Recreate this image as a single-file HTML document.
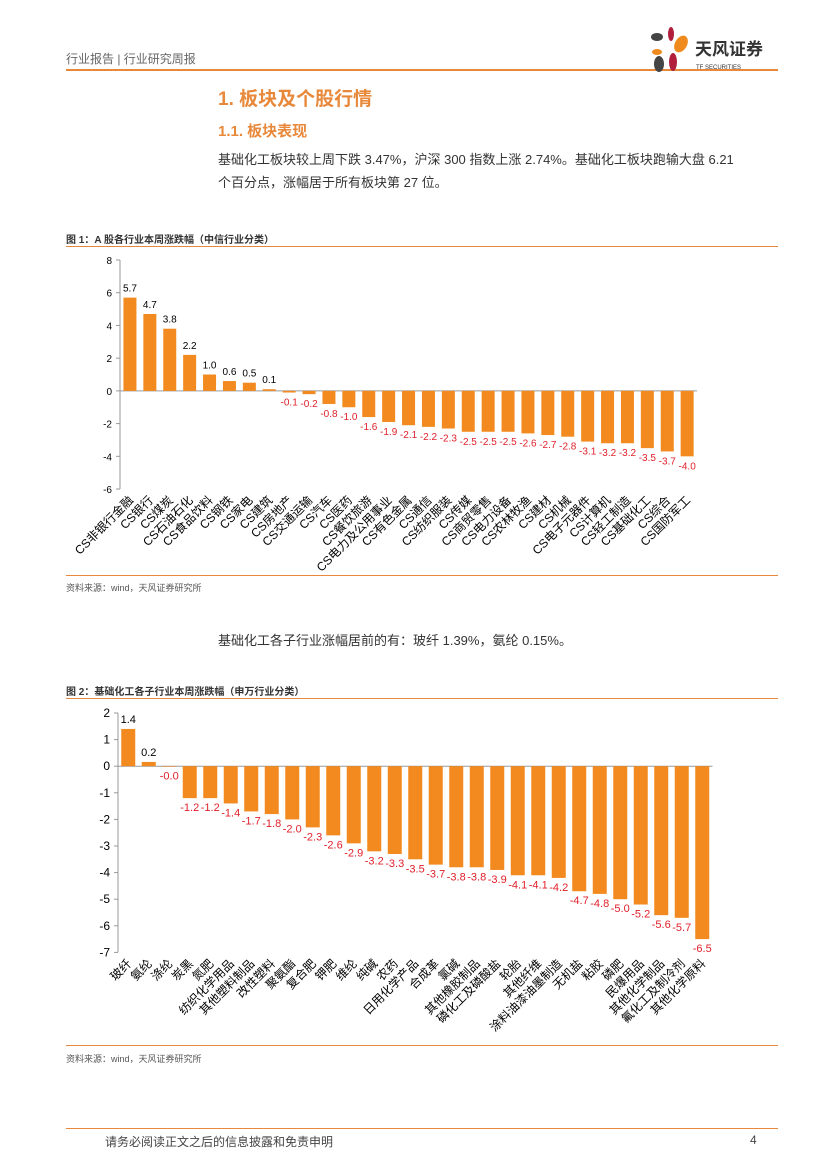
<!DOCTYPE html>
<html><head><meta charset="utf-8">
<style>
body{margin:0;background:#fff;font-family:"Liberation Sans","Noto Sans CJK SC",sans-serif;}
#page{position:relative;width:827px;height:1169px;overflow:hidden;}
.abs{position:absolute;}
</style></head>
<body><div id="page">
<div class="abs" style="left:66px;top:50px;font-size:12px;color:#666;">行业报告 | 行业研究周报</div>
<div class="abs" style="left:66px;top:69px;width:712px;height:2px;background:#e8883a;"></div>
<svg class="abs" style="left:645px;top:24px" width="140" height="50">
<ellipse cx="26" cy="10" rx="3" ry="7" fill="#b01e3c"/><ellipse cx="12" cy="13" rx="6" ry="4" fill="#444"/>
<ellipse cx="36" cy="20" rx="6" ry="9" fill="#ef8a1e" transform="rotate(30 36 20)"/>
<ellipse cx="12" cy="28" rx="5" ry="3" fill="#ef8a1e"/><ellipse cx="14" cy="40" rx="5" ry="8" fill="#444"/>
<ellipse cx="28" cy="38" rx="4" ry="9" fill="#b01e3c"/>
<text x="50" y="31" font-size="17" font-weight="bold" fill="#333">天风证券</text>
<text x="51" y="45" font-size="6" fill="#333">TF SECURITIES</text></svg>
<div class="abs" style="left:218px;top:84px;font-size:19px;font-weight:bold;color:#e8883a;">1. 板块及个股行情</div>
<div class="abs" style="left:218px;top:120px;font-size:15px;font-weight:bold;color:#e8883a;">1.1. 板块表现</div>
<div class="abs" style="left:218px;top:148px;width:560px;font-size:13px;line-height:23px;color:#333;">基础化工板块较上周下跌 3.47%，沪深 300 指数上涨 2.74%。基础化工板块跑输大盘 6.21<br>个百分点，涨幅居于所有板块第 27 位。</div>
<div class="abs" style="left:66px;top:231px;font-size:10px;font-weight:bold;color:#333;">图 1：A 股各行业本周涨跌幅（中信行业分类）</div>
<div class="abs" style="left:66px;top:246px;width:712px;height:1px;background:#e8883a;"></div>
<div class="abs" style="left:66px;top:575px;width:712px;height:1px;background:#e8883a;"></div>
<div class="abs" style="left:66px;top:581px;font-size:9px;color:#555;">资料来源：wind，天风证券研究所</div>
<div class="abs" style="left:218px;top:630px;font-size:13px;color:#333;">基础化工各子行业涨幅居前的有：玻纤 1.39%，氨纶 0.15%。</div>
<div class="abs" style="left:66px;top:683px;font-size:10px;font-weight:bold;color:#333;">图 2：基础化工各子行业本周涨跌幅（申万行业分类）</div>
<div class="abs" style="left:66px;top:698px;width:712px;height:1px;background:#e8883a;"></div>
<div class="abs" style="left:66px;top:1045px;width:712px;height:1px;background:#e8883a;"></div>
<div class="abs" style="left:66px;top:1052px;font-size:9px;color:#555;">资料来源：wind，天风证券研究所</div>
<div class="abs" style="left:66px;top:1128px;width:712px;height:1px;background:#e8883a;"></div>
<div class="abs" style="left:105px;top:1133px;font-size:12px;color:#444;">请务必阅读正文之后的信息披露和免责申明</div>
<div class="abs" style="left:750px;top:1133px;font-size:12px;color:#444;">4</div>
<svg id="c1" class="abs" style="left:0;top:0" width="827" height="1169"></svg>
<svg id="c2" class="abs" style="left:0;top:0" width="827" height="1169"></svg>
<script>
const cats1=["CS非银行金融","CS银行","CS煤炭","CS石油石化","CS食品饮料","CS钢铁","CS家电","CS建筑","CS房地产","CS交通运输","CS汽车","CS医药","CS餐饮旅游","CS电力及公用事业","CS有色金属","CS通信","CS纺织服装","CS传媒","CS商贸零售","CS电力设备","CS农林牧渔","CS建材","CS机械","CS电子元器件","CS计算机","CS轻工制造","CS基础化工","CS综合","CS国防军工"];
const vals1=[5.7,4.7,3.8,2.2,1.0,0.6,0.5,0.1,-0.1,-0.2,-0.8,-1.0,-1.6,-1.9,-2.1,-2.2,-2.3,-2.5,-2.5,-2.5,-2.6,-2.7,-2.8,-3.1,-3.2,-3.2,-3.5,-3.7,-4.0];
const ticks1=[8,6,4,2,0,-2,-4,-6];
const cats2=["玻纤","氨纶","涤纶","炭黑","氮肥","纺织化学用品","其他塑料制品","改性塑料","聚氨酯","复合肥","钾肥","维纶","纯碱","农药","日用化学产品","合成革","氯碱","其他橡胶制品","磷化工及磷酸盐","轮胎","其他纤维","涂料油漆油墨制造","无机盐","粘胶","磷肥","民爆用品","其他化学制品","氟化工及制冷剂","其他化学原料"];
const vals2=[1.4,0.16,-0.02,-1.2,-1.2,-1.4,-1.7,-1.8,-2.0,-2.3,-2.6,-2.9,-3.2,-3.3,-3.5,-3.7,-3.8,-3.8,-3.9,-4.1,-4.1,-4.2,-4.7,-4.8,-5.0,-5.2,-5.6,-5.7,-6.5];
const ticks2=[2,1,0,-1,-2,-3,-4,-5,-6,-7];
const NS="http://www.w3.org/2000/svg";
function mk(svg,tag,a,txt){const e=document.createElementNS(NS,tag);for(const k in a)e.setAttribute(k,a[k]);if(txt!==undefined)e.textContent=txt;svg.appendChild(e);return e;}
function draw(svg,cats,vals,ticks,o){
 const y=v=>o.y0+(o.top-v)*o.k;
 const x=i=>o.x0+o.step*(i+0.5);
 let ax=mk(svg,"line",{x1:o.ax,x2:o.ax,y1:y(o.top),y2:y(o.bot),stroke:"#999"});
 
 
 let zl=mk(svg,"line",{x1:o.ax,x2:o.x0+o.step*cats.length,y1:y(0),y2:y(0),stroke:"#999"});
 
 
 ticks.forEach(t=>{
  mk(svg,"line",{x1:o.ax-4,x2:o.ax,y1:y(t),y2:y(t),stroke:"#999"});
  let tl=mk(svg,"text",{x:o.ax-8,y:y(t)+4,"text-anchor":"end","font-size":o.tf,fill:"#000"},String(t));
  
  
 });
 vals.forEach((v,i)=>{
  const yy=Math.min(y(0),y(v)),h=Math.abs(y(v)-y(0));
  let b=mk(svg,"rect",{x:x(i)-o.bw/2,y:yy,width:o.bw,height:Math.max(h,0.5),fill:"#f28a1f"});
  
  
  const lab=v.toFixed(1);
  let t=mk(svg,"text",{x:x(i),y:v>=0?y(v)-6:y(v)+13,"text-anchor":"middle","font-size":o.vf,fill:v>=0?"#000":"#e0202a"},lab);
  
  
  const ly=y(o.bot)+o.lo;
  let c=mk(svg,"text",{x:x(i)+4,y:ly,"text-anchor":"end","font-size":o.cf,fill:"#000",transform:`rotate(-45 ${x(i)+4} ${ly})`},cats[i]);
  
  
 });
}
draw(document.getElementById('c1'),cats1,vals1,ticks1,{ax:120,x0:120,step:19.9,y0:260,top:8,bot:-6,k:16.36,bw:13,tf:10,vf:10,cf:12,lo:12});
draw(document.getElementById('c2'),cats2,vals2,ticks2,{ax:118,x0:118,step:20.5,y0:713,top:2,bot:-7,k:26.6,bw:14,tf:12,vf:11,cf:12,lo:12});
</script>
</div></body></html>
